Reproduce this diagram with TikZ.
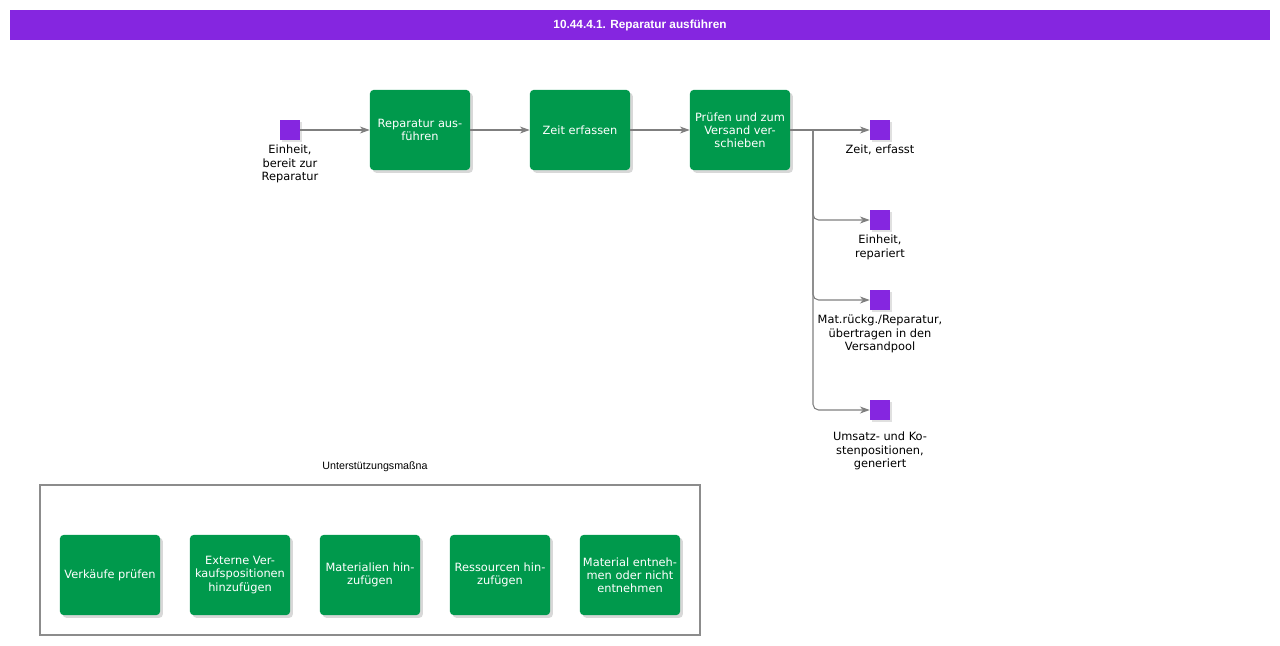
\documentclass[tikz,border=0pt]{standalone}
\usepackage{fontspec}
\setmainfont{DejaVu Sans}
\newfontfamily\headfont{Liberation Sans}
\usetikzlibrary{shapes,arrows.meta,positioning,calc,shadows}
\definecolor{procgreen}{HTML}{00994C}
\definecolor{evtpurple}{HTML}{8526E0}
\definecolor{linegray}{HTML}{7F7F7F}

\begin{document}
\begin{tikzpicture}[x=0.025cm, y=-0.025cm,
    proc/.style={fill=procgreen, text=white, rounded corners=2.5pt, minimum width=2.5cm, minimum height=2cm,
        inner xsep=1pt, align=center, font=\fontsize{8.1}{9.4}\selectfont,
        drop shadow={shadow xshift=0.07cm, shadow yshift=-0.07cm, fill=black!30, opacity=.5}},
    evt/.style={fill=evtpurple, minimum size=0.5cm, inner sep=0pt,
        drop shadow={shadow xshift=0.05cm, shadow yshift=-0.05cm, fill=black!30, opacity=.4}},
    lbl/.style={align=center, font=\fontsize{8.1}{9.4}\selectfont, inner sep=0pt, anchor=north},
    flow/.style={-{Stealth[length=7pt, width=5pt]}, linegray, line width=0.75pt}]
    \useasboundingbox (0,0) rectangle (1280,645);

    % Title bar
    \fill[evtpurple] (10,10) rectangle (1270,40);
    \node[text=white, font=\headfont\bfseries\fontsize{8.4}{10}\selectfont] (title) at (640,25) {10.44.4.1. Reparatur ausführen};

    % Start event
    \node[evt] (start) at (290,130) {};
    \node[lbl] (startlbl) at (290,145) {Einheit,\\bereit zur\\Reparatur};

    % Process steps
    \node[proc] (rep) at (420,130) {Reparatur aus-\\führen};
    \node[proc] (zeit) at (580,130) {Zeit erfassen};
    \node[proc] (pruef) at (740,130) {Prüfen und zum\\Versand ver-\\schieben};

    % End events
    \node[evt] (e1) at (880,130) {};
    \node[evt] (e2) at (880,220) {};
    \node[evt] (e3) at (880,300) {};
    \node[evt] (e4) at (880,410) {};
    \node[lbl] (e1lbl) at (880,145) {Zeit, erfasst};
    \node[lbl] (e2lbl) at (880,235) {Einheit,\\repariert};
    \node[lbl] (e3lbl) at (880,315) {Mat.rückg./Reparatur,\\übertragen in den\\Versandpool};
    \node[lbl] (e4lbl) at (880,432) {Umsatz- und Ko-\\stenpositionen,\\generiert};

    % Flow
    \draw[flow] (start) -- (rep);
    \draw[flow] (rep) -- (zeit);
    \draw[flow] (zeit) -- (pruef);
    \coordinate (split) at (813,130);
    \draw[flow] (pruef) -- (e1);
    \draw[flow, rounded corners=4pt] (split) |- (e2);
    \draw[flow, rounded corners=4pt] (split) |- (e3);
    \draw[flow, rounded corners=4pt] (split) |- (e4);

    % Support
    \node[font=\headfont\fontsize{7.6}{9}\selectfont] (suptitle) at (375,467) {Unterstützungsmaßna};
    \draw[black!45, line width=1.5pt] (40,485) rectangle (700,635);
    \node[proc] (s1) at (110,575) {Verkäufe prüfen};
    \node[proc] (s2) at (240,575) {Externe Ver-\\kaufspositionen\\hinzufügen};
    \node[proc] (s3) at (370,575) {Materialien hin-\\zufügen};
    \node[proc] (s4) at (500,575) {Ressourcen hin-\\zufügen};
    \node[proc] (s5) at (630,575) {Material entneh-\\men oder nicht\\entnehmen};
\end{tikzpicture}
\end{document}
